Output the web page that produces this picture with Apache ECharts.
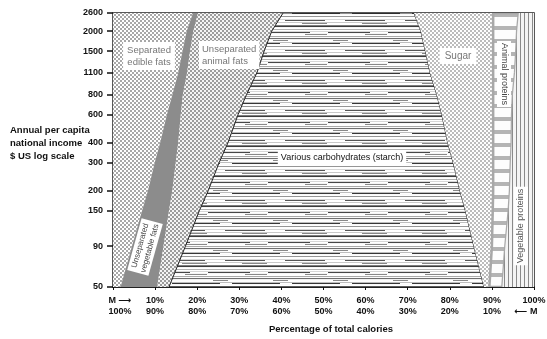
<!DOCTYPE html>
<html>
<head>
<meta charset="utf-8">
<script src="https://cdn.jsdelivr.net/npm/echarts@6/dist/echarts.min.js"></script>
<style>
  html, body { margin: 0; padding: 0; background: #fff; }
  #main { width: 547px; height: 339px; }
</style>
</head>
<body>
<div id="main"></div>
<script>
// income levels ($ US, log scale) at which the band edges were read
const incomeLevels = [50, 90, 150, 200, 300, 400, 600, 800, 1100, 1500, 2000, 2600];
const yTicks = [50, 90, 150, 200, 300, 400, 600, 800, 1100, 1500, 2000, 2600];
const xTicks = [0, 10, 20, 30, 40, 50, 60, 70, 80, 90, 100];
const xTopLabels = ['M \u27F6', '10%', '20%', '30%', '40%', '50%', '60%', '70%', '80%', '90%', '100%'];
const xBottomLabels = ['100%', '90%', '80%', '70%', '60%', '50%', '40%', '30%', '20%', '10%', '\u27F5 M'];

// cumulative % of total calories at the right edge of each band
const separatedFatsEnd = [1.8, 4.5, 6.9, 8.3, 9.9, 11.2, 12.8, 14.1, 15.5, 16.5, 17.5, 19.0];
const vegetableFatsEnd = [10.5, 12.0, 13.3, 14.1, 14.9, 15.5, 16.1, 16.6, 17.6, 18.3, 19.1, 20.2];
const animalFatsEnd = [13.3, 17.2, 20.5, 22.6, 25.2, 27.3, 29.7, 31.7, 34.2, 35.9, 37.7, 40.4];
const starchEnd = [88.1, 85.7, 83.7, 82.4, 80.8, 79.5, 78.1, 76.9, 75.3, 74.2, 73.1, 71.5];
const sugarEnd = [89.4, 90.0, 90.2, 90.3, 90.3, 90.3, 90.3, 90.3, 90.3, 90.3, 90.3, 90.3];
const animalProteinEnd = [92.5, 93.2, 94.0, 94.3, 94.5, 94.7, 94.8, 95.0, 95.5, 95.8, 96.0, 96.4];
const leftEdge = incomeLevels.map(() => 0);
const rightEdge = incomeLevels.map(() => 100);

// --- fill textures ---
function makeCanvas(w, h) {
  const c = document.createElement('canvas');
  c.width = w; c.height = h;
  return c;
}
function dots(bg, dot) {
  const c = makeCanvas(4, 4);
  const g = c.getContext('2d');
  g.fillStyle = bg; g.fillRect(0, 0, 4, 4);
  g.fillStyle = dot;
  g.fillRect(0, 0, 2, 2);
  g.fillRect(2, 2, 2, 2);
  return { image: c, repeat: 'repeat' };
}
function hStripes() {
  const rows = [255, 215, 70, 245, 255, 255, 170, 250, 110, 240, 255, 255, 190, 55, 250, 255, 150, 255, 255, 215, 85, 255, 200, 255, 255, 125, 60, 245, 255, 180];
  const c = makeCanvas(60, rows.length);
  const g = c.getContext('2d');
  rows.forEach(function (v, i) {
    g.fillStyle = 'rgb(' + v + ',' + v + ',' + v + ')';
    g.fillRect(0, i, 60, 1);
  });
  // a few broken segments so it looks less regular
  g.fillStyle = '#fff';
  g.fillRect(10, 2, 18, 1); g.fillRect(40, 13, 12, 1); g.fillRect(25, 20, 20, 1);
  g.fillStyle = '#888';
  g.fillRect(5, 4, 22, 1); g.fillRect(33, 10, 15, 1); g.fillRect(2, 23, 25, 1);
  return { image: c, repeat: 'repeat' };
}
function ladder() {
  const c = makeCanvas(4, 13);
  const g = c.getContext('2d');
  g.fillStyle = '#fdfdfd'; g.fillRect(0, 0, 4, 13);
  g.fillStyle = '#b4b4b4'; g.fillRect(0, 0, 4, 4);
  return { image: c, repeat: 'repeat' };
}
function vLines() {
  const c = makeCanvas(4, 4);
  const g = c.getContext('2d');
  g.fillStyle = '#f4f4f4'; g.fillRect(0, 0, 4, 4);
  g.fillStyle = '#8a8a8a'; g.fillRect(0, 0, 1, 4);
  return { image: c, repeat: 'repeat' };
}

const bands = [
  { name: 'Separated edible fats', from: leftEdge, to: separatedFatsEnd, fill: dots('#ffffff', '#a8a8a8') },
  { name: 'Unseparated vegetable fats', from: separatedFatsEnd, to: vegetableFatsEnd, fill: '#8c8c8c' },
  { name: 'Unseparated animal fats', from: vegetableFatsEnd, to: animalFatsEnd, fill: dots('#f4f4f4', '#9c9c9c') },
  { name: 'Various carbohydrates (starch)', from: animalFatsEnd, to: starchEnd, fill: hStripes(), stroke: '#222', lineWidth: 1 },
  { name: 'Sugar', from: starchEnd, to: sugarEnd, fill: dots('#ffffff', '#bcbcbc') },
  { name: 'Animal proteins', from: sugarEnd, to: animalProteinEnd, fill: ladder(), stroke: '#a8a8a8', lineWidth: 2.5 },
  { name: 'Vegetable proteins', from: animalProteinEnd, to: rightEdge, fill: vLines() }
];

const FONT = '"Liberation Sans", "DejaVu Sans", Arial, sans-serif';

function boxLabel(text, x, y, opt) {
  opt = opt || {};
  return {
    type: 'text', x: x, y: y, z: 100,
    rotation: opt.rotation || 0,
    style: {
      text: text,
      fill: opt.color || '#666',
      fontSize: opt.size || 9.5,
      fontFamily: FONT,
      lineHeight: opt.lineHeight || 12,
      align: opt.align || 'center',
      verticalAlign: 'middle',
      backgroundColor: '#fff',
      padding: opt.padding || [2, 3]
    }
  };
}

const chart = echarts.init(document.getElementById('main'), null, { renderer: 'canvas' });

const labelFont = { fontSize: 9, fontWeight: 'bold', fontFamily: FONT, color: '#111', lineHeight: 11 };

chart.setOption({
  animation: false,
  backgroundColor: '#fff',
  grid: {
    left: 113, right: 13, top: 13, bottom: 52,
    outerBoundsMode: 'none', containLabel: false,
    show: true, borderColor: '#222', borderWidth: 1.5, backgroundColor: 'transparent'
  },
  xAxis: {
    type: 'value', min: 0, max: 100, interval: 10,
    axisLine: { show: true, lineStyle: { color: '#111', width: 1.5 } },
    axisTick: { show: true, length: 3, lineStyle: { color: '#111' } },
    splitLine: { show: false },
    axisLabel: Object.assign({
      margin: 8,
      formatter: function (v) {
        const i = xTicks.indexOf(v);
        if (i === 0) return '{s|' + xTopLabels[i] + '}\n{s|' + xBottomLabels[i] + '}';
        if (i === xTicks.length - 1) return '{n|' + xTopLabels[i] + '}\n{e|' + xBottomLabels[i] + '}';
        return xTopLabels[i] + '\n' + xBottomLabels[i];
      },
      rich: {
        s: Object.assign({ padding: [0, 0, 0, 14] }, labelFont),
        n: Object.assign({}, labelFont),
        e: Object.assign({ padding: [0, 16, 0, 0] }, labelFont)
      }
    }, labelFont)
  },
  yAxis: {
    type: 'log', logBase: 10, min: 50, max: 2600,
    axisLine: { show: true, lineStyle: { color: '#666', width: 1 } },
    axisTick: { show: true, length: 6, customValues: yTicks, lineStyle: { color: '#111', width: 1.5 } },
    axisLabel: {
      customValues: yTicks, margin: 10, fontSize: 9, fontWeight: 'bold', fontFamily: FONT, color: '#111',
      formatter: function (v) { return String(Math.round(v)); }
    },
    splitLine: { show: false },
    minorTick: { show: false }
  },
  series: [{
    type: 'custom',
    silent: true,
    clip: true,
    data: bands.map(function (b, i) { return { name: b.name, value: [i * 10, 100] }; }),
    renderItem: function (params, api) {
      const b = bands[params.dataIndex];
      const pts = [];
      for (let i = 0; i < incomeLevels.length; i++) pts.push(api.coord([b.from[i], incomeLevels[i]]));
      for (let i = incomeLevels.length - 1; i >= 0; i--) pts.push(api.coord([b.to[i], incomeLevels[i]]));
      return {
        type: 'polygon',
        shape: { points: pts },
        style: { fill: b.fill, stroke: b.stroke || null, lineWidth: b.lineWidth || 0 }
      };
    }
  }],
  graphic: [
    boxLabel('Separated\nedible fats', 149, 56, { color: '#777', padding: [2, 4] }),
    boxLabel('Unseparated\nanimal fats', 199, 55, { color: '#777', align: 'left', padding: [2, 3] }),
    boxLabel('Various carbohydrates (starch)', 342, 158, { color: '#111', size: 9, padding: [2, 3] }),
    boxLabel('Sugar', 458, 56, { color: '#777', size: 10, padding: [2, 5] }),
    boxLabel('Animal proteins', 504, 74, { color: '#444', size: 9, rotation: -Math.PI / 2, padding: [1, 2] }),
    boxLabel('Vegetable proteins', 521, 226, { color: '#555', size: 9, rotation: Math.PI / 2, padding: [1, 2] }),
    boxLabel('Unseparated\nvegetable fats', 145, 247, { color: '#444', size: 8, lineHeight: 10, rotation: 1.3, padding: [1, 2] }),
    {
      type: 'text', left: 10, top: 124, z: 100,
      style: { text: 'Annual per capita\nnational income\n$ US log scale', fill: '#111', fontSize: 9.5, fontWeight: 'bold', fontFamily: FONT, lineHeight: 13 }
    },
    {
      type: 'text', x: 331, y: 329, z: 100,
      style: { text: 'Percentage of total calories', fill: '#111', fontSize: 9.5, fontWeight: 'bold', fontFamily: FONT, align: 'center', verticalAlign: 'middle' }
    }
  ]
});
</script>
</body>
</html>
